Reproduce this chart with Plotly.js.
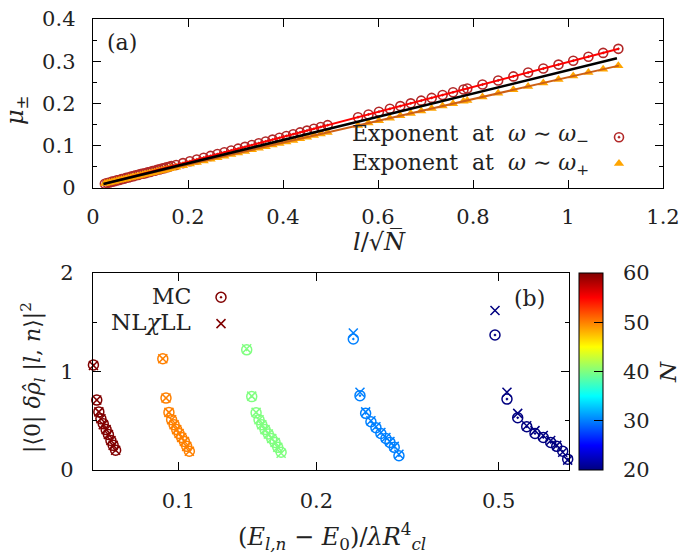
<!DOCTYPE html>
<html><head><meta charset="utf-8">
<script src="https://cdn.plot.ly/plotly-3.0.1.min.js"></script>
<style>html,body{margin:0;padding:0;background:#fff}#chart{width:695px;height:554px}</style>
</head><body><div id="chart"></div>
<script>
// ---------- Panel (a) data: exponent mu vs l/sqrt(N) ----------
const muX = [0.025,0.03,0.035,0.04,0.045,0.05,0.055,0.06,0.065,0.07,0.075,0.08,0.085,0.09,0.095,0.1,0.105,0.11,0.115,0.12,0.125,0.13,0.135,0.14,0.145,0.15,0.155,0.16,0.165,
  0.175,0.1895,0.204,0.2185,0.233,0.2475,0.262,0.2765,0.291,0.3055,0.32,0.3345,0.349,0.3635,0.378,0.3925,0.407,0.4215,0.436,0.4505,0.465,0.4795,0.494,
  0.558,0.580,0.602,0.625,0.647,0.669,0.691,0.713,0.736,0.758,0.780,
  0.788,0.820,0.853,0.885,0.916,0.948,0.980,1.011,1.043,1.074,1.106];
const muMinus = [0.010,0.012,0.013,0.015,0.016,0.018,0.019,0.021,0.022,0.024,0.025,0.027,0.028,0.030,0.031,0.033,0.034,0.035,0.037,0.038,0.040,0.041,0.043,0.044,0.046,0.047,0.049,0.050,0.052,
  0.0546,0.0589,0.0632,0.0675,0.0717,0.0760,0.0803,0.0846,0.0888,0.0931,0.0974,0.1017,0.1060,0.1102,0.1145,0.1188,0.1231,0.1273,0.1316,0.1359,0.1402,0.1445,0.1487,
  0.1676,0.1741,0.1806,0.1874,0.1939,0.2004,0.2068,0.2133,0.2201,0.2266,0.2331,
  0.2355,0.2449,0.2546,0.2641,0.2732,0.2827,0.2921,0.3012,0.3107,0.3198,0.3293];
const muPlus = [0.0105,0.0117,0.0130,0.0143,0.0156,0.0169,0.0182,0.0195,0.0208,0.0221,0.0234,0.0246,0.0259,0.0272,0.0285,0.0298,0.0311,0.0324,0.0337,0.0350,0.0363,0.0375,0.0388,0.0401,0.0414,0.0427,0.0440,0.0453,0.0466,
  0.0492,0.0529,0.0566,0.0604,0.0641,0.0679,0.0716,0.0753,0.0791,0.0828,0.0866,0.0903,0.0940,0.0978,0.1015,0.1053,0.1090,0.1127,0.1165,0.1202,0.1240,0.1277,0.1315,
  0.1480,0.1536,0.1593,0.1653,0.1709,0.1766,0.1823,0.1880,0.1939,0.1996,0.2052,
  0.2073,0.2156,0.2241,0.2323,0.2403,0.2486,0.2568,0.2648,0.2731,0.2811,0.2893];
const fitX = [0.025, 1.107];
const fitMinusY = [0.0104, 0.3296];
const fitPlusY = [0.0105, 0.2896];
const fitMidX = [0.022, 1.103];
const fitMidY = [0.0095, 0.307];

// ---------- Panel (b) data: matrix elements vs energy, per N ----------
const Nvals = [60, 50, 40, 30, 20];
const eN60 = [0.0652,0.0663,0.0670,0.0677,0.0685,0.0695,0.0703,0.0712,0.0720,0.0729];
const mcN60 = [1.066,0.71,0.59,0.52,0.47,0.41,0.36,0.30,0.25,0.20];
const nlN60 = [1.06,0.71,0.59,0.52,0.46,0.41,0.36,0.30,0.25,0.20];
const eN50 = [0.0924,0.0939,0.0953,0.0966,0.0978,0.0991,0.1003,0.1016,0.1030,0.1042,0.1056];
const mcN50 = [1.13,0.73,0.585,0.51,0.46,0.41,0.37,0.33,0.29,0.24,0.19];
const nlN50 = [1.13,0.73,0.585,0.51,0.46,0.41,0.37,0.33,0.29,0.24,0.19];
const eN40 = [0.1409,0.1445,0.1477,0.1499,0.1520,0.1545,0.1571,0.1598,0.1625,0.1647,0.1675];
const mcN40 = [1.22,0.745,0.58,0.51,0.46,0.41,0.365,0.32,0.28,0.23,0.18];
const nlN40 = [1.23,0.75,0.585,0.51,0.46,0.41,0.365,0.32,0.28,0.23,0.17];
const eN30 = [0.2408,0.2490,0.2562,0.2631,0.2698,0.2766,0.2837,0.2895,0.2958,0.3029];
const mcN30 = [1.33,0.755,0.575,0.49,0.43,0.37,0.32,0.28,0.23,0.145];
const nlN30 = [1.39,0.79,0.59,0.50,0.44,0.38,0.33,0.29,0.24,0.16];
const eN20 = [0.4909,0.5214,0.5503,0.5758,0.6003,0.6258,0.6496,0.6695,0.6900,0.7075];
const mcN20 = [1.37,0.72,0.53,0.44,0.37,0.33,0.28,0.24,0.19,0.11];
const nlN20 = [1.62,0.79,0.575,0.45,0.40,0.35,0.30,0.25,0.18,0.10];

const bx = [eN60, eN50, eN40, eN30, eN20];
const bmc = [mcN60, mcN50, mcN40, mcN30, mcN20];
const bnl = [nlN60, nlN50, nlN40, nlN30, nlN20];

const cbTicks = [20, 30, 40, 50, 60];
const cbLabels = ['\u2002\u200920','\u2002\u200930','\u2002\u200940','\u2002\u200950','\u2002\u200960'];
const topXTicks = [0, 0.2, 0.4, 0.6, 0.8, 1, 1.2];
const botXTicks = [0.1, 0.2, 0.5];
const botXLabels = ['0.1','0.2','0.5'];

// ---------- layout helpers ----------
const W = 695, H = 554;
const px = v => v / W;
const py = v => 1 - v / H;
const FONT = 'DejaVu Serif, Liberation Serif, serif';
const FS = 21;
const TXT = '#222';
const jet = [[0,'rgb(0,0,128)'],[0.125,'rgb(0,0,255)'],[0.375,'rgb(0,255,255)'],[0.625,'rgb(255,255,0)'],[0.875,'rgb(255,0,0)'],[1,'rgb(128,0,0)']];

const traces = [];
traces.push({x: muX, y: muMinus, type:'scatter', mode:'markers', name:' ', legend:'legend', showlegend:true,
  marker:{symbol:'circle-open-dot', size:9, color:'rgb(178,40,40)', line:{width:1.6}}, cliponaxis:false});
traces.push({x: muX, y: muPlus, type:'scatter', mode:'markers', name:' ', legend:'legend', showlegend:true,
  marker:{symbol:'triangle-up', size:9, color:'rgb(255,165,0)'}, cliponaxis:false});
traces.push({x: fitX, y: fitMinusY, type:'scatter', mode:'lines', showlegend:false, line:{color:'rgb(255,0,0)', width:2}});
traces.push({x: fitX, y: fitPlusY, type:'scatter', mode:'lines', showlegend:false, line:{color:'rgb(205,95,20)', width:2}});
traces.push({x: fitMidX, y: fitMidY, type:'scatter', mode:'lines', showlegend:false, line:{color:'black', width:2.5}});

for (let i = 0; i < Nvals.length; i++) {
  const col = bx[i].map(() => Nvals[i]);
  traces.push({x: bx[i], y: bmc[i], xaxis:'x2', yaxis:'y2', type:'scatter', mode:'markers',
    name:' ', legend:'legend2', showlegend: i === 0, cliponaxis:false,
    marker:{symbol:'circle-open-dot', size:10, color: col, colorscale: jet, cmin:20, cmax:60, line:{width:1.5},
      showscale: i === 0,
      colorbar: {x: px(579), xanchor:'left', xpad:0, y: py(470), yanchor:'bottom', ypad:0,
        len: (470-273)/H, lenmode:'fraction', thickness: 24, outlinewidth:1, outlinecolor:'black',
        tickvals: cbTicks, ticktext: cbLabels, ticks:'inside', ticklen:9, tickcolor:'black',
        tickfont:{family:FONT, size:FS, color:TXT}}}});
  traces.push({x: bx[i], y: bnl[i], xaxis:'x2', yaxis:'y2', type:'scatter', mode:'markers',
    name:' ', legend:'legend2', showlegend: i === 0, cliponaxis:false,
    marker:{symbol:'x-thin-open', size:9, color: col, colorscale: jet, cmin:20, cmax:60, line:{width:1.5}, showscale:false}});
}

const axBase = {showline:true, linecolor:'black', linewidth:1.3, mirror:'ticks', ticks:'inside', ticklen:8,
  tickcolor:'black', tickwidth:1, showgrid:false, zeroline:false, fixedrange:true,
  tickfont:{family:FONT, size:FS, color:TXT}};

const ann = (text, x, y, opts={}) => Object.assign({text, x: px(x), y: py(y), xref:'paper', yref:'paper',
  xanchor:'center', yanchor:'middle', showarrow:false, font:{family:FONT, size:FS, color:TXT}}, opts);
const f = s => ({family:FONT, size:s, color:TXT});

const layout = {
  width: W, height: H, margin:{l:0, r:0, t:0, b:0}, paper_bgcolor:'white', plot_bgcolor:'white',
  font:{family:FONT, size:FS, color:TXT},
  xaxis: Object.assign({}, axBase, {domain:[px(93), px(663)], range:[0,1.2], tickvals: topXTicks, anchor:'y', ticklabelstandoff:9}),
  yaxis: Object.assign({}, axBase, {domain:[py(188), py(19)], range:[0,0.4], dtick:0.1, anchor:'x', ticklabelstandoff:12,
    minor:{dtick:0.05, ticks:'inside', ticklen:4, tickcolor:'black'}}),
  xaxis2: Object.assign({}, axBase, {domain:[px(93), px(568.5)], type:'log', range:[-1.1867,-0.1485], tickvals: botXTicks, ticktext: botXLabels, anchor:'y2', ticklabelstandoff:11}),
  yaxis2: Object.assign({}, axBase, {domain:[py(470), py(273)], range:[0,2], dtick:1, anchor:'x2', ticklabelstandoff:14,
    minor:{dtick:0.5, ticks:'inside', ticklen:4, tickcolor:'black'}}),
  legend: {x: px(599), xanchor:'left', y: py(119), yanchor:'top', bgcolor:'rgba(0,0,0,0)', font:{family:FONT, size:18}, tracegroupgap:0, itemwidth:30},
  legend2: {x: px(201), xanchor:'left', y: py(279), yanchor:'top', bgcolor:'rgba(0,0,0,0)', font:{family:FONT, size:18}, tracegroupgap:0, itemwidth:30},
  annotations: [
    ann('(a)', 122, 43, {font:f(22)}),
    ann('(b)', 529, 298, {font:f(22)}),
    ann('Exponent\u00a0 at\u00a0 <i>ω</i> ∼ <i>ω</i><sub>−</sub>', 591, 136, {xanchor:'right', font:f(22)}),
    ann('Exponent\u00a0 at\u00a0 <i>ω</i> ∼ <i>ω</i><sub>+</sub>', 591, 164, {xanchor:'right', font:f(22)}),
    ann('MC', 193, 296, {xanchor:'right', font:f(22)}),
    ann('NL<i>χ</i>LL', 193, 322, {xanchor:'right', font:f(23)}),
    ann('<i>l</i>/√<i>N̅</i>', 379, 242, {font:f(24)}),
    ann('<i>μ</i><sub>±</sub>', 17, 110, {textangle:-90, font:f(24)}),
    ann('<i>N</i>', 668, 372, {textangle:-90, font:f(23)}),
    ann('(<i>E</i><sub><i>l,n</i></sub> − <i>E</i><sub>0</sub>)/<i>λR</i><sup>4</sup><sub><i>cl</i></sub>', 332, 536, {font:f(24)}),
    ann('|⟨0| <i>δρ̂</i><sub><i>l</i></sub> |<i>l</i>, <i>n</i>⟩|<sup>2</sup>', 33, 378, {textangle:-90, font:f(22)})
  ]
};

Plotly.newPlot('chart', traces, layout, {staticPlot:true, displayModeBar:false});
</script>
</body></html>
